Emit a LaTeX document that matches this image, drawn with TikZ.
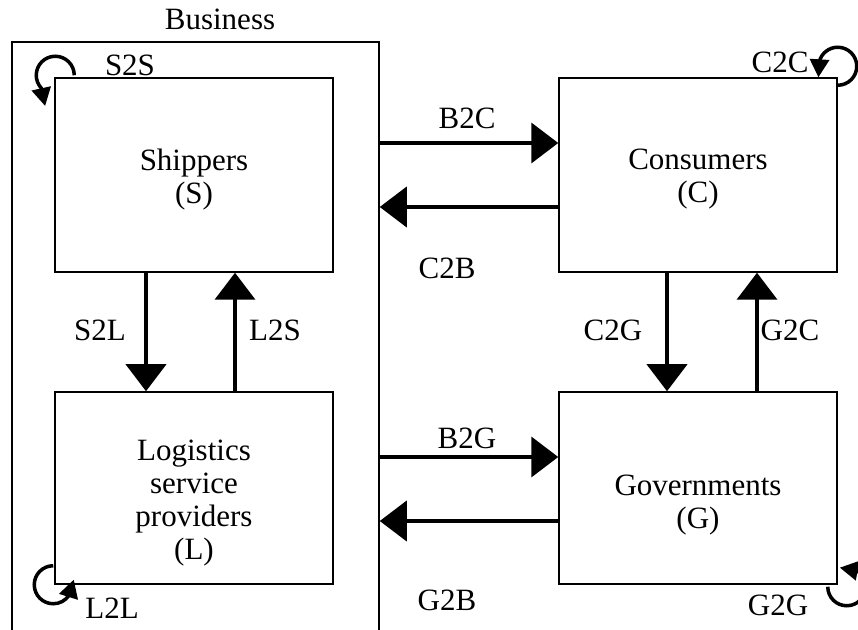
\documentclass[tikz,border=0pt]{standalone}
\usepackage{fontspec}
\setmainfont{Liberation Serif}
\usetikzlibrary{arrows.meta}
\begin{document}
\begin{tikzpicture}[x=1pt,y=1pt,
  box/.style={draw,line width=1.5pt,inner sep=0pt,minimum width=278pt},
  txt/.style={font=\fontsize{31}{33}\selectfont,align=center,inner sep=0pt},
  lbl/.style={font=\fontsize{31}{33}\selectfont,inner sep=0pt},
  flow/.style={line width=4pt,-{Triangle[width=40pt,length=27pt]}},
  loop/.style={line width=3.5pt,-{Triangle[width=19pt,length=18pt]}}]
\clip (0,0) rectangle (858,629);
\useasboundingbox (0,0) rectangle (858,629);
% boxes
\node[box,minimum width=367pt,minimum height=617pt] (B) at (195.5,278.5) {};
\node[box,minimum height=194pt] (S) at (194,454) {};
\node[box,minimum height=192pt] (L) at (194,141) {};
\node[box,minimum height=194pt] (C) at (698,454) {};
\node[box,minimum height=192pt] (G) at (698,141) {};
% texts
\node[lbl] (Bt) at (220,610) {Business};
\node[txt] (St) at (194,449) {Shippers\\(S)};
\node[txt] (Ct) at (698,450) {Consumers\\(C)};
\node[txt] (Lt) at (194,126) {Logistics\\service\\providers\\(L)};
\node[txt] (Gt) at (698,124) {Governments\\(G)};
% horizontal flows
\coordinate (b2c) at ([yshift=32pt]C.west);
\coordinate (c2b) at ([yshift=-32pt]C.west);
\coordinate (b2g) at ([yshift=31pt]G.west);
\coordinate (g2b) at ([yshift=-33pt]G.west);
\draw[flow] (b2c -| B.east) -- (b2c);
\draw[flow] (c2b) -- (c2b -| B.east);
\draw[flow] (b2g -| B.east) -- (b2g);
\draw[flow] (g2b) -- (g2b -| B.east);
% vertical flows
\draw[flow] ([xshift=-48pt]S.south) -- ([xshift=-48pt]L.north);
\draw[flow] ([xshift=41pt]L.north) -- ([xshift=41pt]S.south);
\draw[flow] ([xshift=-31pt]C.south) -- ([xshift=-31pt]G.north);
\draw[flow] ([xshift=59pt]G.north) -- ([xshift=59pt]C.south);
% flow labels
\node[lbl] (lb2c) at (467,511) {B2C};
\node[lbl] (lc2b) at (447,361) {C2B};
\node[lbl] (lb2g) at (467,191) {B2G};
\node[lbl] (lg2b) at (447,29) {G2B};
\node[lbl] (ls2l) at (100,299) {S2L};
\node[lbl] (ll2s) at (275,299) {L2S};
\node[lbl] (lc2g) at (613,299) {C2G};
\node[lbl] (lg2c) at (790,299) {G2C};
% self loops
\coordinate (s2s) at ([xshift=20pt,yshift=2pt]S.north west);
\draw[loop] (s2s) arc[start angle=0,end angle=222,radius=19pt] -- ++(4,-18);
\coordinate (c2c) at ([yshift=-8pt]C.north east);
\draw[loop] (c2c) arc[start angle=-90,end angle=165,radius=19pt] -- ++(-1,-16);
\coordinate (l2l) at ([xshift=-1pt,yshift=19pt]L.south west);
\draw[loop] (l2l) arc[start angle=90,end angle=325,radius=19pt] -- ++(5,16);
\coordinate (g2g) at ([xshift=-10pt,yshift=-2pt]G.south east);
\draw[loop] (g2g) arc[start angle=180,end angle=418,radius=19pt] -- ++(-17,3);
\node[lbl] (ls2s) at (130,564) {S2S};
\node[lbl] (lc2c) at (780,567) {C2C};
\node[lbl] (ll2l) at (112,21) {L2L};
\node[lbl] (lg2g) at (778,24) {G2G};
\end{tikzpicture}
\end{document}
